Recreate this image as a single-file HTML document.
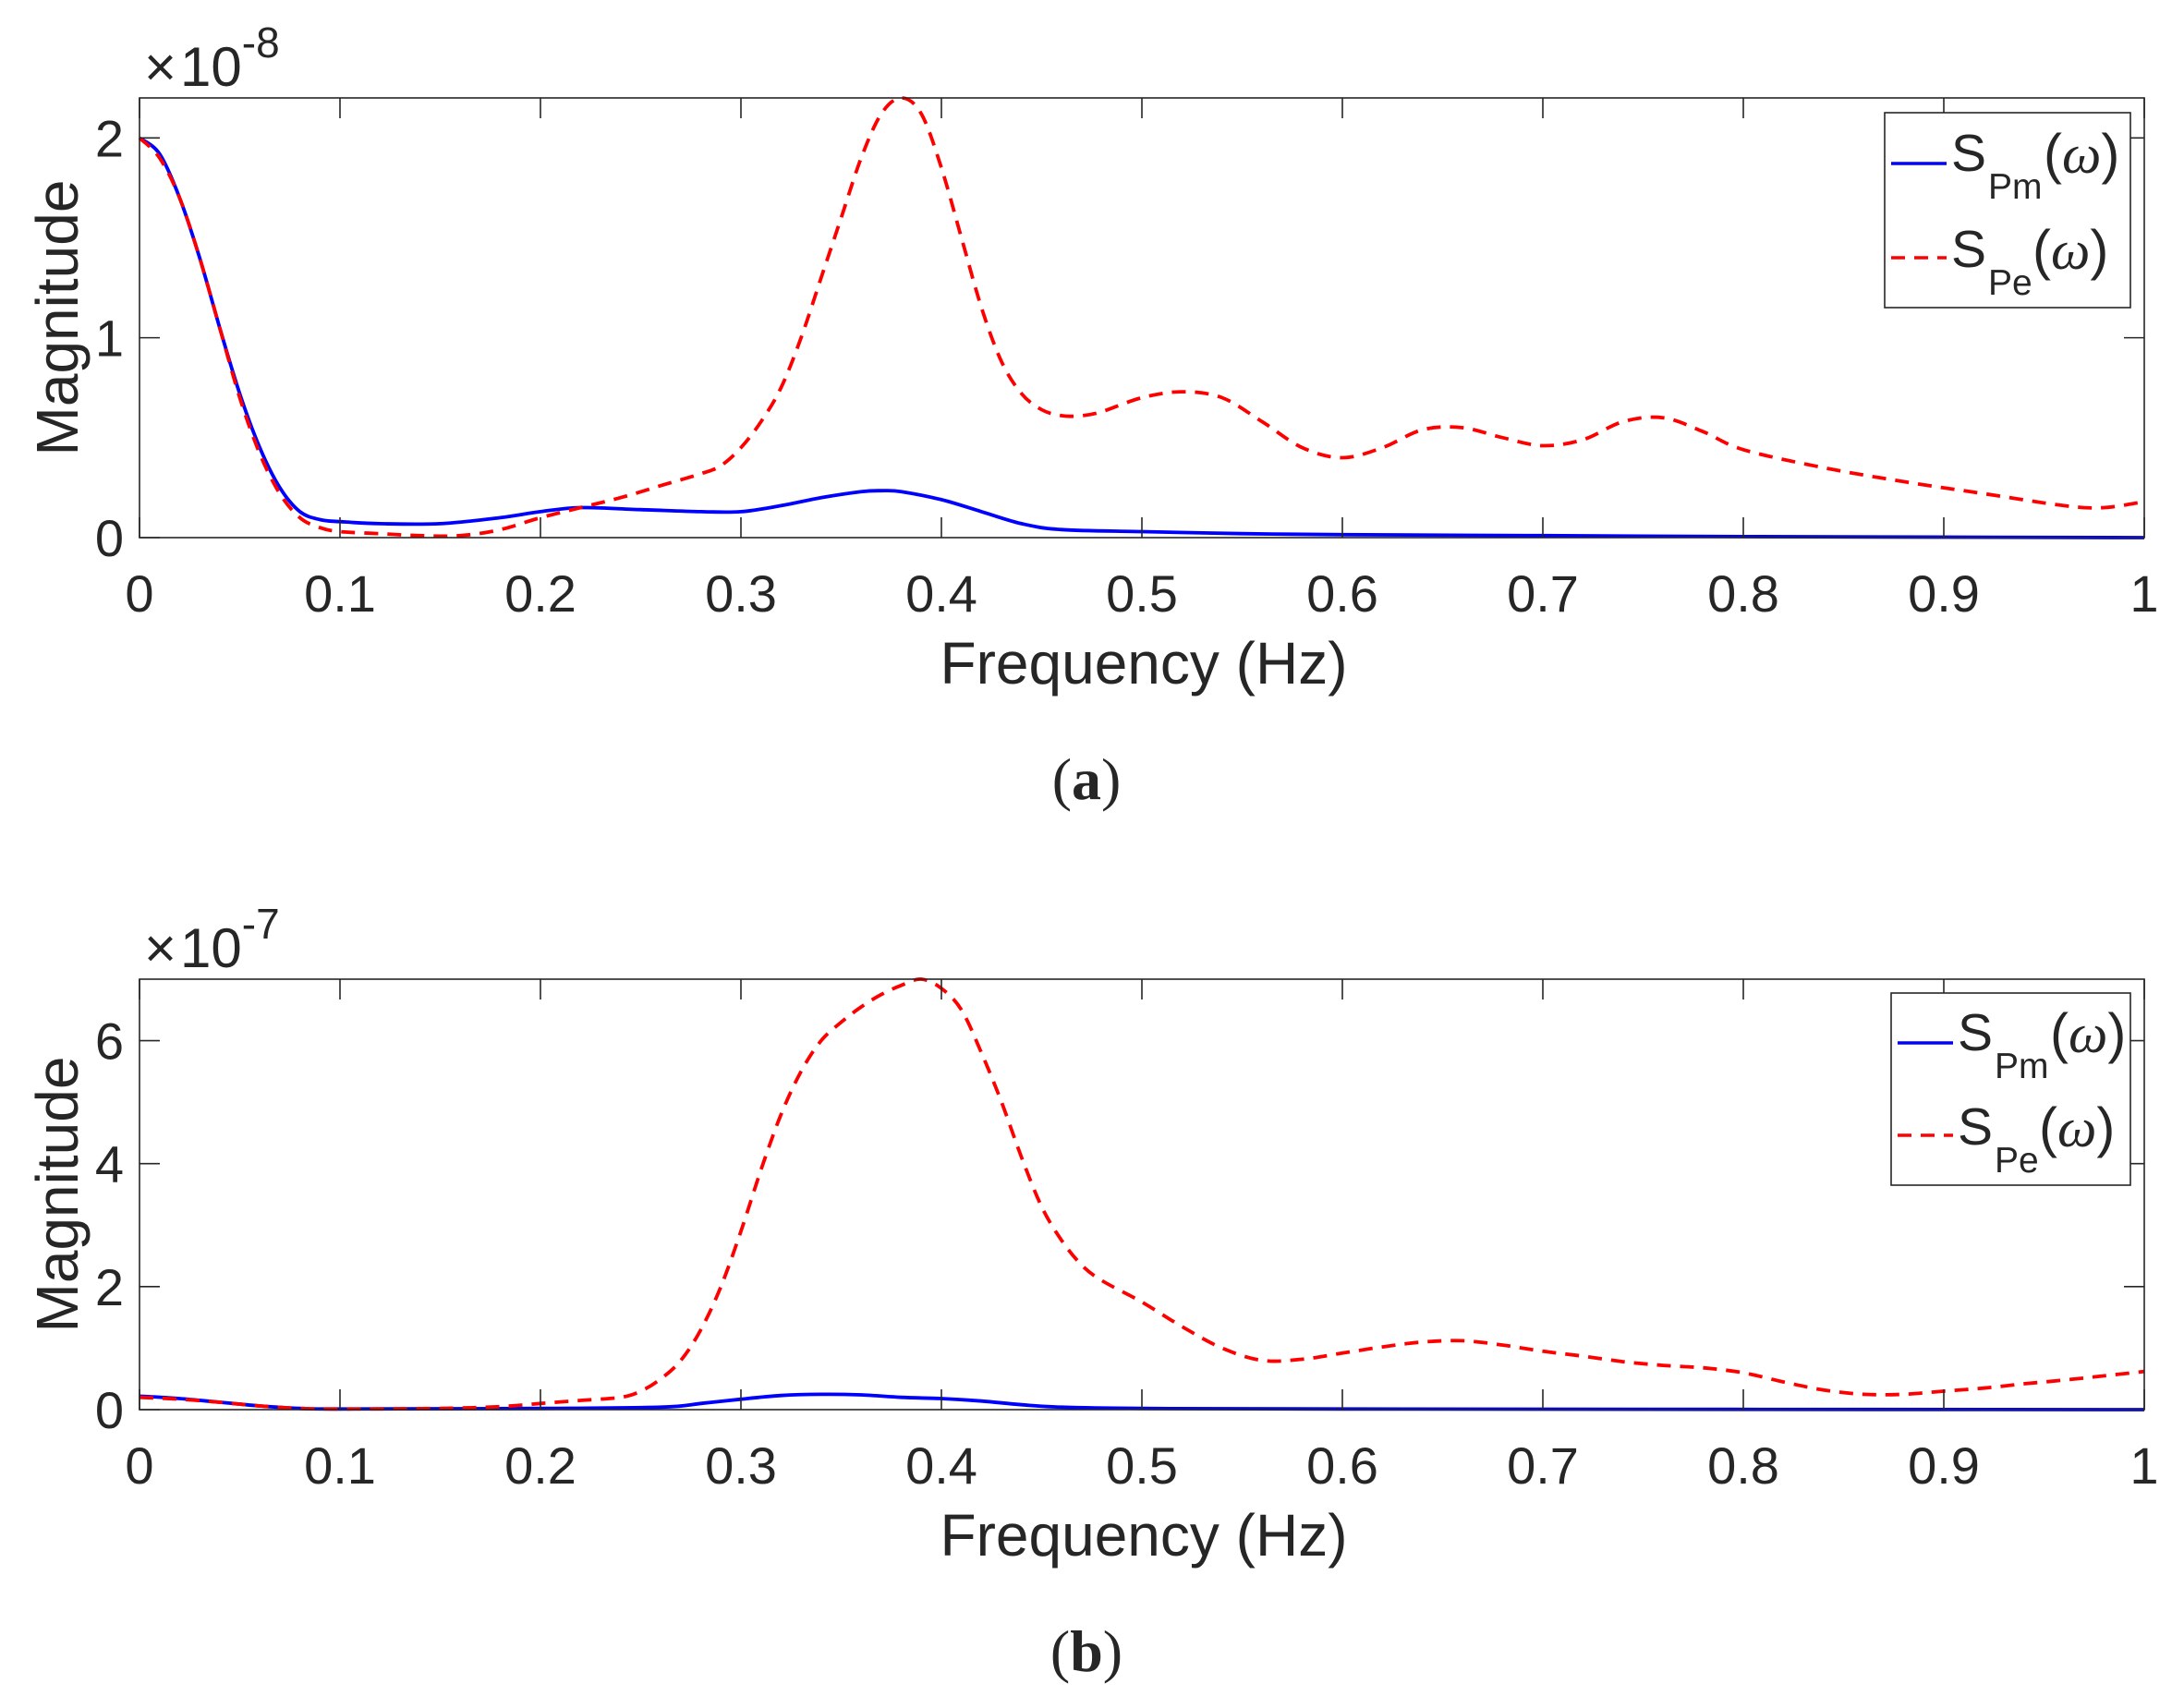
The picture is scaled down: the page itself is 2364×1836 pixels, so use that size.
<!DOCTYPE html>
<html><head><meta charset="utf-8"><style>
html,body{margin:0;padding:0;background:#fff;}
svg{display:block;}
text{font-family:"Liberation Sans",Arial,sans-serif;fill:#262626;}
</style></head><body>
<svg id="fig" width="2364" height="1836" viewBox="0 0 2364 1836" xmlns="http://www.w3.org/2000/svg"></svg>
<script>
// ---- data (a) : x10^-8 ----
const freqA = [0,0.01,0.02,0.03,0.04,0.05,0.06,0.07,0.08,0.09,0.1,0.12,0.14,0.16,0.18,0.2,0.22,0.24,0.26,0.28,0.29,0.3,0.31,0.32,0.33,0.34,0.35,0.36,0.37,0.38,0.39,0.4,0.41,0.42,0.43,0.44,0.45,0.46,0.47,0.48,0.5,0.52,0.54,0.56,0.58,0.6,0.62,0.64,0.66,0.68,0.7,0.72,0.74,0.76,0.78,0.8,0.84,0.88,0.92,0.96,0.98,1.0];
const peA = [2.0,1.9,1.7,1.4,1.05,0.7,0.42,0.22,0.1,0.05,0.03,0.02,0.01,0.01,0.04,0.1,0.15,0.2,0.26,0.32,0.36,0.45,0.58,0.75,1.0,1.3,1.6,1.9,2.12,2.2,2.12,1.85,1.5,1.15,0.88,0.72,0.64,0.61,0.61,0.63,0.7,0.73,0.7,0.58,0.45,0.4,0.45,0.54,0.55,0.5,0.46,0.49,0.58,0.6,0.53,0.44,0.35,0.28,0.22,0.16,0.15,0.18];
const freqAm = [0,0.01,0.02,0.03,0.04,0.05,0.06,0.07,0.08,0.09,0.1,0.12,0.15,0.18,0.2,0.22,0.25,0.28,0.3,0.32,0.34,0.36,0.37,0.38,0.4,0.42,0.44,0.46,0.5,0.55,0.6,0.7,0.8,1.0];
const pmA = [2.0,1.92,1.7,1.4,1.05,0.72,0.45,0.25,0.13,0.09,0.08,0.07,0.07,0.1,0.13,0.15,0.14,0.13,0.13,0.16,0.2,0.23,0.235,0.23,0.19,0.13,0.07,0.04,0.03,0.02,0.015,0.01,0.005,0];
const yTicksA = [0,1,2];
// ---- data (b) : x10^-7 ----
const freqB = [0,0.02,0.04,0.06,0.08,0.1,0.15,0.18,0.2,0.22,0.24,0.25,0.26,0.27,0.28,0.29,0.3,0.31,0.32,0.33,0.34,0.35,0.36,0.37,0.38,0.39,0.4,0.41,0.42,0.43,0.44,0.45,0.46,0.47,0.48,0.5,0.52,0.54,0.56,0.58,0.6,0.62,0.64,0.66,0.68,0.7,0.72,0.74,0.76,0.78,0.8,0.82,0.84,0.86,0.88,0.9,0.92,0.94,0.96,0.98,1.0];
const peB = [0.2,0.17,0.12,0.06,0.02,0.01,0.02,0.05,0.1,0.15,0.2,0.3,0.5,0.8,1.3,2.0,2.9,3.9,4.8,5.5,6.0,6.3,6.55,6.75,6.9,7.0,6.85,6.5,5.8,5.0,4.1,3.3,2.75,2.35,2.1,1.75,1.35,1.0,0.8,0.82,0.92,1.02,1.1,1.12,1.05,0.95,0.87,0.78,0.72,0.68,0.6,0.45,0.32,0.25,0.25,0.3,0.35,0.42,0.48,0.55,0.62];
const freqBm = [0,0.02,0.04,0.06,0.08,0.1,0.2,0.26,0.28,0.3,0.32,0.34,0.36,0.38,0.4,0.42,0.44,0.46,0.5,0.6,1.0];
const pmB = [0.22,0.18,0.12,0.06,0.02,0.01,0.02,0.04,0.1,0.17,0.23,0.25,0.24,0.2,0.18,0.14,0.08,0.04,0.02,0.01,0];
const yTicksB = [0,2,4,6];
const xTicks = [0,0.1,0.2,0.3,0.4,0.5,0.6,0.7,0.8,0.9,1];
const xTickLabels = ["0","0.1","0.2","0.3","0.4","0.5","0.6","0.7","0.8","0.9","1"];

const NS="http://www.w3.org/2000/svg";
const svg=document.getElementById('fig');
function mk(tag,attrs,parent){const e=document.createElementNS(NS,tag);for(const k in attrs)e.setAttribute(k,attrs[k]);(parent||svg).appendChild(e);return e;}

function smoothPath(pts){
  let d='M'+pts[0][0].toFixed(1)+','+pts[0][1].toFixed(1);
  for(let i=0;i<pts.length-1;i++){
    const p0=pts[i-1]||pts[i],p1=pts[i],p2=pts[i+1],p3=pts[i+2]||p2;
    const c1=[p1[0]+(p2[0]-p0[0])/6,p1[1]+(p2[1]-p0[1])/6];
    const c2=[p2[0]-(p3[0]-p1[0])/6,p2[1]-(p3[1]-p1[1])/6];
    d+='C'+c1[0].toFixed(1)+','+c1[1].toFixed(1)+' '+c2[0].toFixed(1)+','+c2[1].toFixed(1)+' '+p2[0].toFixed(1)+','+p2[1].toFixed(1);
  }
  return d;
}

function panel(cfg){
  const L=151,R=2321,T=cfg.top,B=cfg.bottom;
  const g=mk('g',{});
  
  
  const sx=v=>L+(v-0)/(1-0)*(R-L);
  const sy=v=>B-(v-0)/(cfg.ymax-0)*(B-T);
  function line(xs,ys,color,dash,name){
    const pts=xs.map((x,i)=>[sx(x),sy(ys[i])]);
    const p=mk('path',{d:smoothPath(pts),fill:'none',stroke:color,'stroke-width':3.8,'stroke-linejoin':'round'},g);
    if(dash)p.setAttribute('stroke-dasharray',dash);
    
    
  }
  line(cfg.xm,cfg.ym,'#0000ff',null,'series-spm');
  line(cfg.xe,cfg.ye,'#ff0000','15 10','series-spe');
  const box=mk('rect',{x:L,y:T,width:R-L,height:B-T,fill:'none',stroke:'#262626','stroke-width':1.6},g);
  
  
  xTicks.forEach((t,i)=>{
    const x=sx(t);
    mk('line',{x1:x,y1:B,x2:x,y2:B-22,stroke:'#262626','stroke-width':1.6},g);
    mk('line',{x1:x,y1:T,x2:x,y2:T+22,stroke:'#262626','stroke-width':1.6},g);
    const tx=mk('text',{x:x,y:B+80,'font-size':56,'text-anchor':'middle'},g);
    tx.textContent=xTickLabels[i];
    
    
  });
  cfg.yticks.forEach(t=>{
    const y=sy(t);
    mk('line',{x1:L,y1:y,x2:L+22,y2:y,stroke:'#262626','stroke-width':1.6},g);
    mk('line',{x1:R,y1:y,x2:R-22,y2:y,stroke:'#262626','stroke-width':1.6},g);
    const tx=mk('text',{x:134,y:y+20,'font-size':56,'text-anchor':'end'},g);
    tx.textContent=String(t);
    
    
  });
  const ex=mk('text',{x:156,y:cfg.top-13,'font-size':60},g);
  ex.innerHTML='<tspan font-size="60">×</tspan><tspan dx="4">10</tspan><tspan dy="-31" font-size="46">'+cfg.exp+'</tspan>';
  
  
  const yt=mk('text',{x:0,y:0,'font-size':64,'text-anchor':'middle',transform:`translate(84,${(T+B)/2}) rotate(-90)`},g);
  yt.textContent='Magnitude';
  
  
  const xt=mk('text',{x:1238,y:B+158,'font-size':64,'text-anchor':'middle'},g);
  xt.textContent='Frequency (Hz)';
  
  
  const cp=mk('text',{x:1176,y:B+283,'font-size':64,'text-anchor':'middle',style:'font-family:"Liberation Serif",serif'},g);
  cp.innerHTML='(<tspan font-weight="bold">'+cfg.cap+'</tspan>)';
  
  
  const lg=mk('g',{},g);
  
  
  const lb=cfg.leg;
  mk('rect',{x:lb.x,y:lb.y1,width:2306-lb.x,height:lb.y2-lb.y1,fill:'#fff',stroke:'#262626','stroke-width':1.6},lg);
  const off=lb.x-2040;
  const entries=[{c:'#0000ff',dash:null,sub:'Pm',ly:lb.l1,sb:lb.s1,par:2212},{c:'#ff0000',dash:'15 10',sub:'Pe',ly:lb.l2,sb:lb.s2,par:2200}];
  entries.forEach(en=>{
    const ent=mk('g',{},lg);
    
    
    const ln=mk('line',{x1:lb.x+7,y1:en.ly,x2:lb.x+67,y2:en.ly,stroke:en.c,'stroke-width':3.6},ent);
    if(en.dash)ln.setAttribute('stroke-dasharray',en.dash);
    const s=mk('text',{x:lb.x+72,y:en.sb,'font-size':57,fill:'#000'},ent);
    s.textContent='S';
    const sb=mk('text',{x:lb.x+112,y:en.sb+30,'font-size':39,fill:'#000'},ent);
    sb.textContent=en.sub;
    const pr=mk('text',{x:en.par+off,y:en.sb+2,'font-size':60,fill:'#000'},ent);
    pr.innerHTML='(<tspan style="font-family:\'Liberation Serif\',serif;font-style:italic">ω</tspan>)';
  });
}
panel({name:'panel-a',top:106,bottom:582,ymax:2.2,yticks:yTicksA,xm:freqAm,ym:pmA,xe:freqA,ye:peA,exp:'-8',cap:'a',
  leg:{x:2040,y1:122,y2:333,l1:177,l2:279,s1:185,s2:289}});
panel({name:'panel-b',top:1060,bottom:1526,ymax:7,yticks:yTicksB,xm:freqBm,ym:pmB,xe:freqB,ye:peB,exp:'-7',cap:'b',
  leg:{x:2047,y1:1075,y2:1283,l1:1129,l2:1229,s1:1137,s2:1239}});
</script>
</body></html>
